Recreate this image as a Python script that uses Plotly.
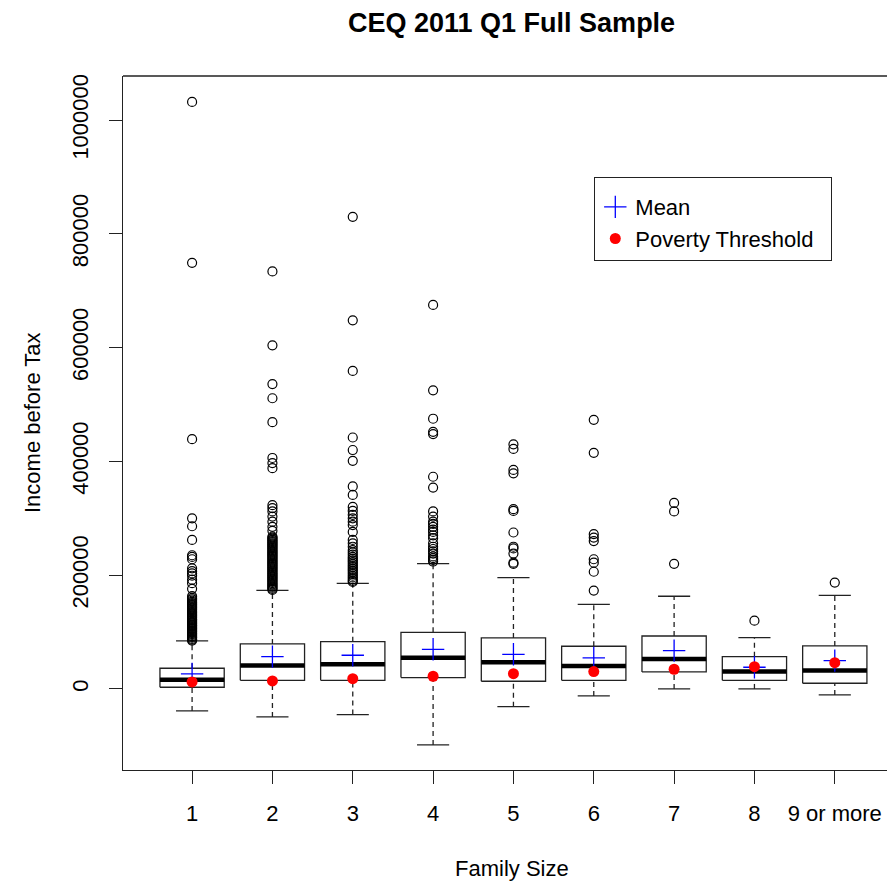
import plotly.graph_objects as go

# ---------------- data ----------------
categories = ["1", "2", "3", "4", "5", "6", "7", "8", "9 or more"]
positions = [1, 2, 3, 4, 5, 6, 7, 8, 9]

q1 = [3000, 15200, 15200, 19900, 13500, 15200, 29900, 15200, 10000]
median = [16300, 41000, 43400, 55000, 46900, 40400, 52700, 30500, 32200]
q3 = [36400, 79100, 83100, 99600, 89600, 75000, 93100, 56800, 75600]
whisker_low = [-38700, -49200, -45100, -98400, -31100, -12300, 0, 0, -10500]
whisker_high = [84400, 173400, 185700, 220200, 195600, 148800, 162900, 90200, 164600]

mean_income = [26400, 56800, 59200, 69700, 60900, 54500, 67400, 38100, 49800]
poverty_threshold = [12300, 14000, 18100, 22300, 26900, 30500, 34600, 39200, 46200]

outliers_1 = [1032000, 749000, 439000, 300000, 286000, 262000, 235000, 232000, 228000,
              212000, 207000, 203000, 199000, 192000, 186000, 176000,
              163000, 160000, 157500, 155000, 153000, 151000, 149000, 147000, 145000,
              143000, 141000, 139000, 137000, 135000, 133000, 131000, 129000, 127000,
              125000, 123000, 121500, 120000, 118000, 116500, 115000, 113000, 111500,
              110000, 108000, 106500, 105000, 103000, 101500, 100000, 98000, 96500,
              95000, 93000, 91500, 90000, 88000, 86500, 85000]
outliers_2 = [734000, 604000, 536000, 511000, 469000, 406000, 397000, 388000, 323000,
              318000, 312000, 303000, 294000, 285000, 278000,
              268000, 266000, 264000, 262000, 260000, 258000, 256000, 254000, 252000,
              250000, 248000, 246000, 244000, 242000, 240000, 238000, 236000, 234000,
              232000, 230000, 228000, 226000, 224000, 222000, 220000, 218000, 216000,
              214000, 212000, 210000, 208000, 206000, 204000, 202000, 200000, 198000,
              196000, 194000, 192000, 190000, 188000, 186000, 184000, 182000, 180000,
              178000, 176000, 174000]
outliers_3 = [830000, 648000, 559000, 442000, 420000, 401000, 356000, 341000, 320000,
              313000, 306000, 300000, 294000, 288000, 276000, 262000, 256000, 250000,
              244000, 240000, 236000, 232000, 229000, 226000, 223000, 220000, 217000,
              214000, 211000, 208000, 205000, 202000, 199000, 196000, 193000, 190000,
              188000]
outliers_4 = [675000, 525000, 475000, 452000, 448000, 373000, 354000, 312000, 303000,
              294000, 290000, 285000, 280000, 276000, 270000, 265000, 256000, 250000,
              246000, 242000, 238000, 233000, 230000, 227000, 224000]
outliers_5 = [430000, 422000, 385000, 379000, 316000, 313000, 275000, 250000, 247000,
              238000, 222000, 220000]
outliers_6 = [473000, 415000, 272000, 266000, 260000, 228000, 222000, 206000, 173000]
outliers_7 = [327000, 312000, 220000]
outliers_8 = [120000]
outliers_9 = [187000]
outliers = [outliers_1, outliers_2, outliers_3, outliers_4, outliers_5,
            outliers_6, outliers_7, outliers_8, outliers_9]

y_tick_values = [0, 200000, 400000, 600000, 800000, 1000000]
y_tick_labels = ["0", "200000", "400000", "600000", "800000", "1000000"]

# ---------------- styling ----------------
FONT = "Liberation Sans, Arial, Helvetica, sans-serif"
HALF_BOX = 0.4
HALF_CAP = 0.2

fig = go.Figure()

# box rectangles, whiskers, caps, medians
bx, by, wx, wy, cx, cy, mx, my = [], [], [], [], [], [], [], []
for p, a, m, b, lo, hi in zip(positions, q1, median, q3, whisker_low, whisker_high):
    bx += [p - HALF_BOX, p + HALF_BOX, p + HALF_BOX, p - HALF_BOX, p - HALF_BOX, None]
    by += [a, a, b, b, a, None]
    wx += [p, p, None, p, p, None]
    wy += [lo, a, None, b, hi, None]
    cx += [p - HALF_CAP, p + HALF_CAP, None, p - HALF_CAP, p + HALF_CAP, None]
    cy += [lo, lo, None, hi, hi, None]
    mx += [p - HALF_BOX, p + HALF_BOX, None]
    my += [m, m, None]

fig.add_trace(go.Scatter(x=wx, y=wy, mode="lines", showlegend=False, hoverinfo="skip",
                         line=dict(color="#222", width=1.3, dash="5px,4px")))
fig.add_trace(go.Scatter(x=cx, y=cy, mode="lines", showlegend=False, hoverinfo="skip",
                         line=dict(color="#222", width=1.3)))
fig.add_trace(go.Scatter(x=bx, y=by, mode="lines", showlegend=False, hoverinfo="skip",
                         line=dict(color="#222", width=1.3)))
fig.add_trace(go.Scatter(x=mx, y=my, mode="lines", showlegend=False, hoverinfo="skip",
                         line=dict(color="black", width=4.5)))

# outliers
ox, oy = [], []
for p, vals in zip(positions, outliers):
    ox += [p] * len(vals)
    oy += vals
fig.add_trace(go.Scatter(x=ox, y=oy, mode="markers", showlegend=False, hoverinfo="skip",
                         marker=dict(symbol="circle-open", size=9, color="black",
                                     line=dict(width=1.2, color="black"))))

# mean and poverty threshold
fig.add_trace(go.Scatter(x=positions, y=mean_income, mode="markers", name="Mean",
                         marker=dict(symbol="cross-thin", size=16, color="blue",
                                     line=dict(width=1.3, color="blue"))))
fig.add_trace(go.Scatter(x=positions, y=poverty_threshold, mode="markers",
                         name="Poverty Threshold&nbsp;&nbsp;",
                         marker=dict(symbol="circle", size=11, color="red",
                                     line=dict(width=0))))

W, H = 887, 882
L, R, T, B = 123, 0, 76, 112
pw, ph = W - L - R, H - T - B

fig.update_layout(
    width=W, height=H,
    margin=dict(l=L, r=R, t=T, b=B, pad=0),
    paper_bgcolor="white", plot_bgcolor="white",
    font=dict(family=FONT, size=22, color="black"),
    xaxis=dict(range=[0.14, 9.65], tickvals=positions, ticktext=categories,
               ticks="outside", ticklen=13, tickwidth=1.2, tickcolor="#222",
               showline=True, linecolor="#222", linewidth=1.3,
               showgrid=False, zeroline=False, ticklabelstandoff=10,
               tickfont=dict(family=FONT, size=22, color="black")),
    yaxis=dict(range=[-142500, 1077500], tickvals=y_tick_values, ticktext=y_tick_labels,
               tickangle=-90, ticks="outside", ticklen=13, tickwidth=1.2, tickcolor="#222",
               showline=True, linecolor="#222", linewidth=1.3,
               showgrid=False, zeroline=False, ticklabelstandoff=12,
               tickfont=dict(family=FONT, size=22, color="black")),
    legend=dict(x=(594 - L) / pw, y=1 - (177 - T) / ph, xanchor="left", yanchor="top",
                bordercolor="#222", borderwidth=1.3, bgcolor="white",
                title=dict(text=" ", font=dict(size=6)),
                font=dict(family=FONT, size=22, color="black")),
    shapes=[dict(type="line", xref="paper", yref="paper", x0=0, x1=1, y0=1, y1=1,
                 line=dict(color="#222", width=1.3))],
    annotations=[
        dict(text="<b>CEQ 2011 Q1 Full Sample</b>", xref="paper", yref="paper",
             x=(511.5 - L) / pw, y=1 + (T - 23) / ph, xanchor="center", yanchor="middle",
             showarrow=False, font=dict(family=FONT, size=27, color="black")),
        dict(text="Family Size", xref="paper", yref="paper",
             x=(512 - L) / pw, y=-(868 - (T + ph)) / ph, xanchor="center", yanchor="middle",
             showarrow=False, font=dict(family=FONT, size=22, color="black")),
        dict(text="Income before Tax", xref="paper", yref="paper", textangle=-90,
             x=(32 - L) / pw, y=0.5, xanchor="center", yanchor="middle",
             showarrow=False, font=dict(family=FONT, size=22, color="black")),
    ],
)

fig.write_html("out.html",
               config={"displayModeBar": False},
               post_script="document.body.style.margin='0';"
                           "document.documentElement.style.overflow='hidden';")
